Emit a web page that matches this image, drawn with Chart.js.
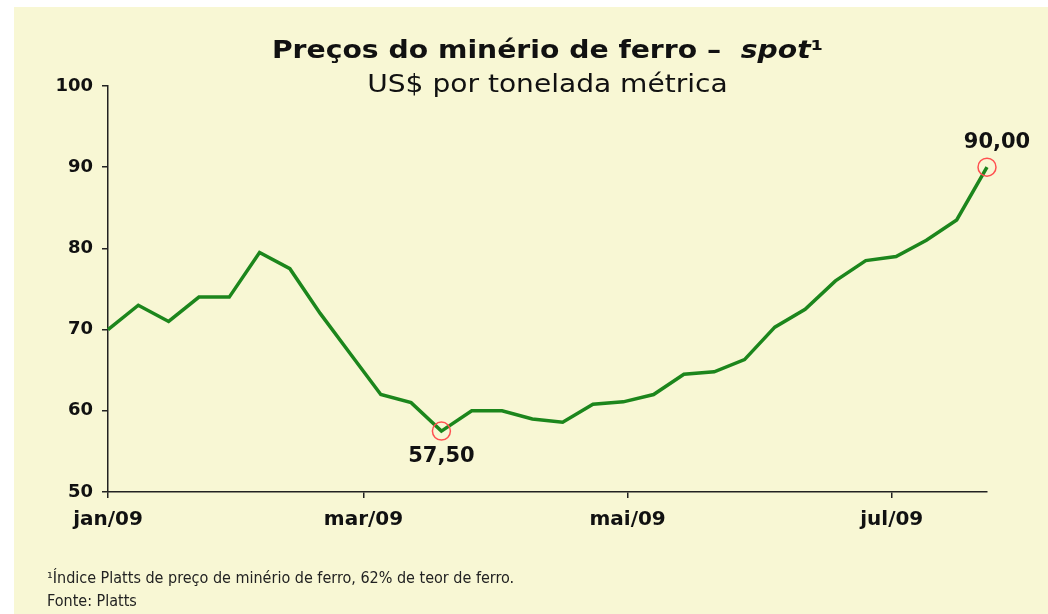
<!DOCTYPE html>
<html>
<head>
<meta charset="utf-8">
<script src="https://cdn.jsdelivr.net/npm/chart.js@4/dist/chart.umd.min.js"></script>
<style>
  html, body { margin:0; padding:0; background:#ffffff; }
  #wrap { position:relative; width:1048px; height:614px; overflow:hidden; }
  #bg { position:absolute; left:14px; top:7px; right:0; bottom:0; background:#F8F7D4; }
  canvas { position:absolute; left:0; top:0; }
  .t { position:absolute; left:108px; width:879px; text-align:center; color:#111; white-space:nowrap; }
  #title { top:37px; font:bold 25px/25px "DejaVu Sans"; transform:scaleX(1.13); }
  #subtitle { top:72px; font:24px/24px "DejaVu Sans"; transform:scaleX(1.17); }
  #foot { position:absolute; left:47px; top:566px; font:16px/23px "DejaVu Sans Condensed", "DejaVu Sans"; color:#222; white-space:nowrap; }
</style>
</head>
<body>
<div id="wrap">
  <div id="bg"></div>
  <canvas id="c" width="1048" height="614"></canvas>
  <div class="t" id="title">Preços do minério de ferro –&nbsp; <i>spot</i>¹</div>
  <div class="t" id="subtitle">US$ por tonelada métrica</div>
  <div id="foot">¹Índice Platts de preço de minério de ferro, 62% de teor de ferro.<br>Fonte: Platts</div>
</div>
<script>
// ---- data ----
const weekDates = [
  '2009-01-01','2009-01-08','2009-01-15','2009-01-22','2009-01-29',
  '2009-02-05','2009-02-12','2009-02-19','2009-02-26','2009-03-05',
  '2009-03-12','2009-03-19','2009-03-26','2009-04-02','2009-04-09',
  '2009-04-16','2009-04-23','2009-04-30','2009-05-07','2009-05-14',
  '2009-05-21','2009-05-28','2009-06-04','2009-06-11','2009-06-18',
  '2009-06-25','2009-07-02','2009-07-09','2009-07-16','2009-07-23'
];
const prices = [
  70, 73, 71, 74, 74,
  79.5, 77.5, 72, 67, 62,
  61, 57.5, 60, 60, 59,
  58.6, 60.8, 61.1, 62, 64.5,
  64.8, 66.3, 70.3, 72.5, 76,
  78.5, 79, 81, 83.5, 90
];
const tickDates = ['2009-01-01','2009-03-01','2009-05-01','2009-07-01'];
const tickLabels = ['jan/09','mar/09','mai/09','jul/09'];
const yTicks = [50, 60, 70, 80, 90, 100];
const highlightIdx = [11, 29];

// ---- helpers ----
const DAY = 86400000;
const t0 = Date.parse(weekDates[0]);
const toDay = d => Math.round((Date.parse(d) - t0) / DAY);
const points = weekDates.map((d, i) => ({ x: toDay(d), y: prices[i] }));
const tickDays = tickDates.map(toDay);

const radii = prices.map((v, i) => highlightIdx.includes(i) ? 9 : 0);

const labelPlugin = {
  id: 'valueLabels',
  afterDatasetsDraw(chart) {
    const ctx = chart.ctx;
    const meta = chart.getDatasetMeta(0);
    ctx.save();
    ctx.font = 'bold 21px "DejaVu Sans"';
    ctx.fillStyle = '#111';
    ctx.textAlign = 'center';
    ctx.textBaseline = 'middle';
    highlightIdx.forEach((i, k) => {
      const p = meta.data[i];
      const txt = prices[i].toFixed(2).replace('.', ',');
      if (k === 0) ctx.fillText(txt, p.x, p.y + 25);
      else ctx.fillText(txt, p.x + 10, p.y - 25);
    });
    ctx.restore();
  }
};

new Chart(document.getElementById('c'), {
  type: 'line',
  plugins: [labelPlugin],
  data: {
    datasets: [{
      data: points,
      borderColor: '#1C861C',
      borderWidth: 3.5,
      tension: 0,
      pointRadius: radii,
      pointHoverRadius: radii,
      pointBorderColor: '#FF5050',
      pointBackgroundColor: 'rgba(0,0,0,0)',
      pointBorderWidth: 1.5,
      clip: false
    }]
  },
  options: {
    responsive: false,
    animation: false,
    events: [],
    layout: { padding: { left: 0, top: 86, right: 61, bottom: 0 } },
    plugins: { legend: { display: false }, tooltip: { enabled: false }, title: { display: false } },
    scales: {
      x: {
        type: 'linear',
        min: 0,
        max: toDay(weekDates[weekDates.length - 1]),
        afterBuildTicks: s => { s.ticks = tickDays.map(v => ({ value: v })); },
        afterFit: s => { s.height = 122; },
        grid: { drawOnChartArea: false, drawTicks: true, tickLength: 6, color: '#222', lineWidth: 1.5 },
        border: { display: true, color: '#222', width: 1.5 },
        ticks: {
          autoSkip: false, maxRotation: 0, padding: 10,
          color: '#111',
          font: { family: 'DejaVu Sans', weight: 'bold', size: 20 },
          callback: v => { const k = tickDays.indexOf(v); return k >= 0 ? tickLabels[k] : ''; }
        }
      },
      y: {
        min: 50, max: 100,
        afterBuildTicks: s => { s.ticks = yTicks.map(v => ({ value: v })); },
        afterFit: s => { s.width = 108; },
        grid: { drawOnChartArea: false, drawTicks: true, tickLength: 6, color: '#222', lineWidth: 1.5 },
        border: { display: true, color: '#222', width: 1.5 },
        ticks: {
          padding: 9, color: '#111',
          font: { family: 'DejaVu Sans', weight: 'bold', size: 18 }
        }
      }
    }
  }
});
</script>
</body>
</html>
